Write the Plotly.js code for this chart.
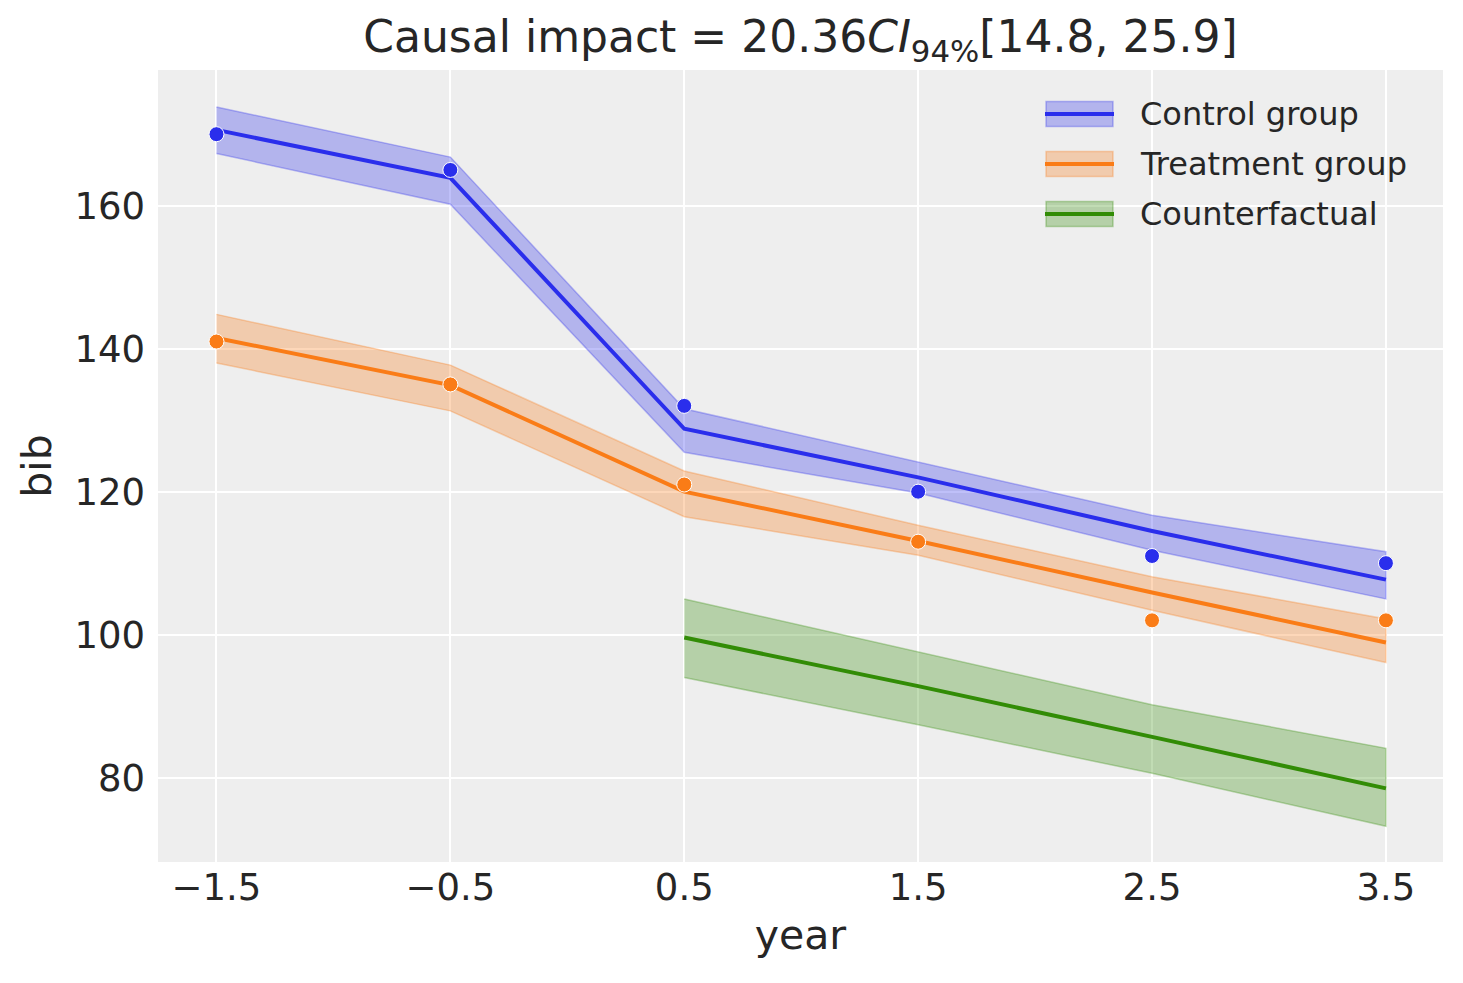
<!DOCTYPE html>
<html>
<head>
<meta charset="utf-8">
<script src="https://cdn.plot.ly/plotly-3.0.1.min.js"></script>
<style>html,body{margin:0;padding:0;background:#fff;}#chart{width:1463px;height:983px;}</style>
</head>
<body>
<div id="chart"></div>
<script>
// ---- data ----
var years = [-1.5, -0.5, 0.5, 1.5, 2.5, 3.5];
var postYears = [0.5, 1.5, 2.5, 3.5];

var controlObs = [170, 165, 132, 120, 111, 110];
var controlMean = [170.6, 163.9, 128.8, 122.0, 114.5, 107.7];
var controlUpper = [173.8, 166.8, 131.6, 124.2, 116.7, 111.6];
var controlLower = [167.3, 160.2, 125.5, 119.8, 111.8, 105.0];

var treatObs = [141, 135, 121, 113, 102, 102];
var treatMean = [141.5, 134.9, 120.0, 113.1, 105.9, 98.9];
var treatUpper = [144.8, 137.7, 122.9, 115.3, 108.1, 102.2];
var treatLower = [138.0, 131.3, 116.5, 111.1, 103.4, 96.1];

var cfMean = [99.6, 92.8, 85.7, 78.5];
var cfUpper = [105.0, 97.6, 90.2, 84.1];
var cfLower = [94.0, 87.4, 80.6, 73.2];

var xTickVals = [-1.5, -0.5, 0.5, 1.5, 2.5, 3.5];
var xTickText = ['\u22121.5', '\u22120.5', '0.5', '1.5', '2.5', '3.5'];
var yTickVals = [80, 100, 120, 140, 160];
var legendNames = ['Control group', 'Treatment group', 'Counterfactual'];

// ---- style ----
var BLUE = '#2a2eec', ORANGE = '#fa7c17', GREEN = '#328c06';
function rgba(hex, a) {
  var r = parseInt(hex.substr(1,2),16), g = parseInt(hex.substr(3,2),16), b = parseInt(hex.substr(5,2),16);
  return 'rgba(' + r + ',' + g + ',' + b + ',' + a + ')';
}
function band(xs, up, lo, color) {
  return {
    x: xs.concat(xs.slice().reverse()),
    y: up.concat(lo.slice().reverse()),
    type: 'scatter', mode: 'lines', fill: 'toself',
    fillcolor: rgba(color, 0.3),
    line: {color: rgba(color, 0.3), width: 1.5},
    hoverinfo: 'skip', showlegend: false
  };
}
function meanLine(xs, ys, color) {
  return {x: xs, y: ys, type: 'scatter', mode: 'lines',
    line: {color: color, width: 4}, showlegend: false, hoverinfo: 'skip'};
}
function pts(xs, ys, color) {
  return {x: xs, y: ys, type: 'scatter', mode: 'markers',
    marker: {color: color, size: 15, line: {color: '#ffffff', width: 1}},
    showlegend: false, hoverinfo: 'skip'};
}

var traces = [
  band(years, controlUpper, controlLower, BLUE),
  band(years, treatUpper, treatLower, ORANGE),
  band(postYears, cfUpper, cfLower, GREEN),
  meanLine(years, controlMean, BLUE),
  meanLine(years, treatMean, ORANGE),
  meanLine(postYears, cfMean, GREEN),
  pts(years, controlObs, BLUE),
  pts(years, treatObs, ORANGE)
];

// ---- manual legend (paper coords) ----
var L = 158, R = 1443, T = 70, B = 862;
var PW = R - L, PH = B - T;
function px(x) { return (x - L) / PW; }
function py(y) { return (B - y) / PH; }
var legendColors = [BLUE, ORANGE, GREEN];
var legendY = [114, 164, 214];
var shapes = [], annotations = [];
for (var i = 0; i < 3; i++) {
  var c = legendColors[i], cy = legendY[i];
  shapes.push({type: 'rect', xref: 'paper', yref: 'paper',
    x0: px(1046), x1: px(1113), y0: py(cy + 12.5), y1: py(cy - 12.5),
    fillcolor: rgba(c, 0.3), line: {color: rgba(c, 0.3), width: 1.5}});
  shapes.push({type: 'line', xref: 'paper', yref: 'paper',
    x0: px(1045), x1: px(1114), y0: py(cy), y1: py(cy),
    line: {color: c, width: 4}});
  annotations.push({xref: 'paper', yref: 'paper', x: px(1138), y: py(cy),
    xanchor: 'left', yanchor: 'middle', showarrow: false, text: legendNames[i],
    font: {family: 'DejaVu Sans', size: 32, color: '#262626'}});
}

var layout = {
  width: 1463, height: 983,
  margin: {l: L, r: 1463 - R, t: T, b: 983 - B, pad: 0},
  paper_bgcolor: '#ffffff', plot_bgcolor: '#eeeeee',
  font: {family: 'DejaVu Sans', color: '#262626'},
  showlegend: false,
  title: {text: 'Causal impact = 20.36<i>CI</i><sub>94%</sub>[14.8, 25.9]',
    font: {family: 'DejaVu Sans', size: 44, color: '#262626'},
    x: 0.5471, xanchor: 'center', xref: 'container', yref: 'container', y: 1 - 37/983, yanchor: 'middle'},
  xaxis: {range: [-1.75, 3.744], tickvals: xTickVals, ticktext: xTickText,
    showgrid: true, gridcolor: '#ffffff', gridwidth: 2, zeroline: false,
    showline: false, ticks: '', ticklabelstandoff: 0,
    tickfont: {family: 'DejaVu Sans', size: 37, color: '#262626'},
    title: {text: 'year', font: {family: 'DejaVu Sans', size: 41, color: '#262626'}, standoff: 12}},
  yaxis: {range: [68.2, 178.98], tickvals: yTickVals,
    showgrid: true, gridcolor: '#ffffff', gridwidth: 2, zeroline: false,
    showline: false, ticks: '', ticklabelstandoff: 12,
    tickfont: {family: 'DejaVu Sans', size: 37, color: '#262626'},
    title: {text: 'bib', font: {family: 'DejaVu Sans', size: 41, color: '#262626'}, standoff: 10}},
  shapes: shapes, annotations: annotations
};

Plotly.newPlot('chart', traces, layout, {displayModeBar: false, staticPlot: true});
</script>
</body>
</html>
